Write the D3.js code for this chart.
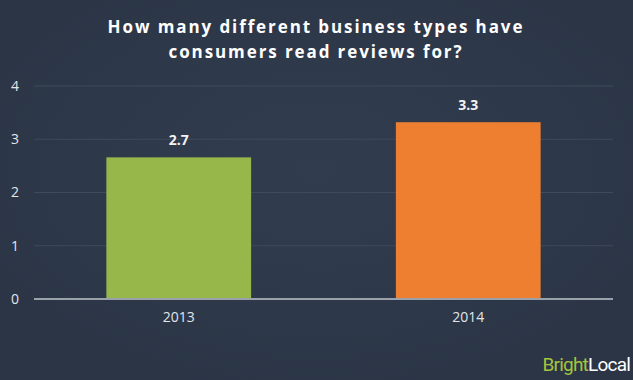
<!DOCTYPE html>
<html>
<head>
<meta charset="utf-8">
<script src="https://cdn.jsdelivr.net/npm/d3@7"></script>
<style>
  body { margin: 0; background: #2d3849; }
  svg { display: block; }
</style>
</head>
<body>
<svg></svg>
<script>
const width = 633;
const height = 380;

const years = ['2013', '2014'];
const values = [2.66, 3.32];
const barColors = ['#97b74b', '#ee7f31'];
const yTicks = [0, 1, 2, 3, 4];
const titleLines = ['How many different business types have', 'consumers read reviews for?'];

const svg = d3.select('svg')
  .attr('width', width)
  .attr('height', height);

const defs = svg.append('defs');
const grad = defs.append('radialGradient')
  .attr('id', 'bg')
  .attr('cx', '50%').attr('cy', '45%').attr('r', '60%');
grad.append('stop').attr('offset', '0%').attr('stop-color', '#313d4f');
grad.append('stop').attr('offset', '100%').attr('stop-color', '#2b3546');

svg.append('rect')
  .attr('width', width)
  .attr('height', height)
  .attr('fill', 'url(#bg)');

const x = d3.scaleBand()
  .domain(years)
  .range([34, 613])
  .paddingInner(0.5)
  .paddingOuter(0.25);

const y = d3.scaleLinear()
  .domain([0, 4])
  .range([299, 86]);

// gridlines
svg.append('g')
  .selectAll('line')
  .data(yTicks.filter(d => d > 0))
  .enter()
  .append('line')
  .attr('x1', 34)
  .attr('x2', 613)
  .attr('y1', d => y(d))
  .attr('y2', d => y(d))
  .attr('stroke', '#3f4a5b')
  .attr('stroke-width', 1);

// y tick labels
svg.append('g')
  .selectAll('text')
  .data(yTicks)
  .enter()
  .append('text')
  .attr('x', 15)
  .attr('y', d => y(d))
  .attr('dy', '0.35em')
  .attr('text-anchor', 'middle')
  .attr('fill', '#e2e5ea')
  .style('font', '14px "Open Sans", sans-serif')
  .text(d => d);

// bars
svg.append('g')
  .selectAll('rect')
  .data(values)
  .enter()
  .append('rect')
  .attr('x', (d, i) => x(years[i]))
  .attr('y', d => y(d))
  .attr('width', x.bandwidth())
  .attr('height', d => y(0) - y(d))
  .attr('fill', (d, i) => barColors[i]);

// value labels
svg.append('g')
  .selectAll('text')
  .data(values)
  .enter()
  .append('text')
  .attr('x', (d, i) => x(years[i]) + x.bandwidth() / 2)
  .attr('y', d => y(d) - 12)
  .attr('text-anchor', 'middle')
  .attr('fill', '#f2f3f5')
  .style('font', 'bold 14px "Open Sans", sans-serif')
  .text(d => d3.format('.1f')(d));

// baseline
svg.append('line')
  .attr('x1', 34)
  .attr('x2', 613)
  .attr('y1', y(0))
  .attr('y2', y(0))
  .attr('stroke', '#9aa1ab')
  .attr('stroke-width', 2);

// x labels
const xAxis = d3.axisBottom(x).tickSize(0).tickPadding(13);
const xg = svg.append('g')
  .attr('transform', `translate(0,${y(0)})`)
  .call(xAxis);
xg.select('.domain').remove();
xg.selectAll('text')
  .attr('fill', '#e2e5ea')
  .style('font', '14px "Open Sans", sans-serif');

// title
svg.append('g')
  .selectAll('text')
  .data(titleLines)
  .enter()
  .append('text')
  .attr('x', 316)
  .attr('y', (d, i) => 33 + i * 25)
  .attr('text-anchor', 'middle')
  .attr('fill', '#ffffff')
  .style('font', 'bold 17px "Open Sans", sans-serif')
  .style('letter-spacing', '1.9px')
  .text(d => d);

// logo
const logo = svg.append('text')
  .attr('x', 630)
  .attr('y', 371)
  .attr('text-anchor', 'end')
  .style('font', '19px "Liberation Sans Narrow", "Roboto", sans-serif')
  .style('letter-spacing', '-0.8px');
logo.append('tspan').attr('fill', '#a5c53c').text('Bright');
logo.append('tspan').attr('fill', '#ffffff').text('Local');
</script>
</body>
</html>
